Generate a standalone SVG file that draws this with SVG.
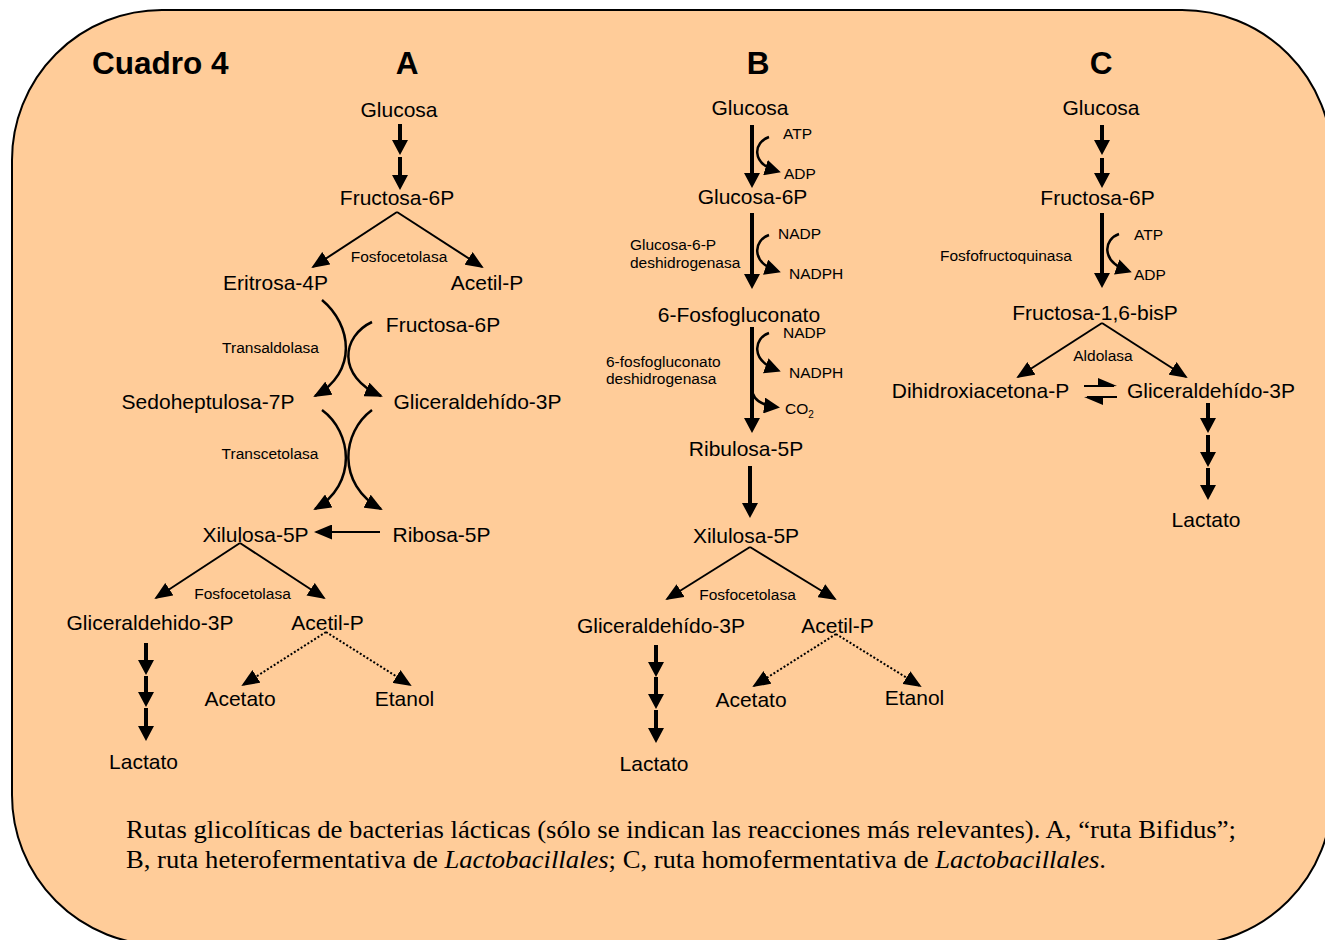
<svg xmlns="http://www.w3.org/2000/svg" width="1325" height="940" viewBox="0 0 1325 940">
<style>
.t{font-family:"Liberation Sans",Arial,sans-serif;font-size:21px;fill:#000;text-anchor:middle}
.s{font-family:"Liberation Sans",Arial,sans-serif;font-size:15.5px;fill:#000}
.sm{text-anchor:middle}
.h{font-family:"Liberation Sans",Arial,sans-serif;font-size:31.5px;font-weight:bold;fill:#000}
.cap{font-family:"Liberation Serif","Times New Roman",serif;font-size:25.5px;fill:#000}
.thin{stroke:#000;stroke-width:2;fill:none;marker-end:url(#mThin)}
.arc{stroke:#000;stroke-width:2.5;fill:none;marker-end:url(#mThin)}
.dot{stroke:#000;stroke-width:2;fill:none;stroke-dasharray:2 2;marker-end:url(#mThin)}
.thick{stroke:#000;stroke-width:4;fill:none;marker-end:url(#mThick)}
.curve{stroke:#000;stroke-width:2.5;fill:none;marker-end:url(#mCurve)}
.plain{stroke:#000;stroke-width:2;fill:none}
</style>
<defs>
<marker id="mThin" markerUnits="userSpaceOnUse" markerWidth="18" markerHeight="15" refX="16" refY="7.5" orient="auto"><path d="M0,0 L18,7.5 L0,15 z" fill="#000"/></marker>
<marker id="mThick" markerUnits="userSpaceOnUse" markerWidth="15" markerHeight="16" refX="9" refY="8" orient="auto"><path d="M0,0 L15,8 L0,16 z" fill="#000"/></marker>
<marker id="mCurve" markerUnits="userSpaceOnUse" markerWidth="16" markerHeight="16" refX="12" refY="8" orient="auto"><path d="M0,0 L16,8 L0,16 z" fill="#000"/></marker>
</defs>
<rect id="frame" x="12" y="10" width="1320" height="935" rx="150" ry="150" fill="#FFCC99" stroke="#000" stroke-width="2"/>
<g id="titles">
<text class="h" x="92" y="74">Cuadro 4</text>
<text class="h" x="407" y="74" text-anchor="middle">A</text>
<text class="h" x="758" y="74" text-anchor="middle">B</text>
<text class="h" x="1101" y="74" text-anchor="middle">C</text>
</g>
<g id="connectors">
<!-- Column A -->
<line class="thick" x1="400" y1="124" x2="400" y2="149"/>
<line class="thick" x1="400" y1="157" x2="400" y2="184"/>
<line class="thin" x1="397" y1="212" x2="313" y2="267"/>
<line class="thin" x1="397" y1="212" x2="482" y2="267"/>
<path class="arc" d="M322,300 C352,325 358,372 315,396"/>
<path class="arc" d="M372,322 C342,336 336,376 381,396"/>
<path class="arc" d="M322,410 C352,432 358,484 315,509"/>
<path class="arc" d="M372,410 C342,432 336,484 381,509"/>
<line class="thin" x1="380" y1="532" x2="316" y2="532"/>
<line class="thin" x1="240" y1="543" x2="156" y2="598"/>
<line class="thin" x1="240" y1="543" x2="324" y2="598"/>
<line class="thick" x1="146" y1="643" x2="146" y2="669"/>
<line class="thick" x1="146" y1="676" x2="146" y2="701"/>
<line class="thick" x1="146" y1="708" x2="146" y2="735"/>
<line class="dot" x1="326" y1="632" x2="243" y2="685"/>
<line class="dot" x1="326" y1="632" x2="410" y2="685"/>
<!-- Column B -->
<line class="thick" x1="752" y1="125" x2="752" y2="182"/>
<path class="curve" d="M769,137 C754,142 750,163 777,171"/>
<line class="thick" x1="752" y1="213" x2="752" y2="283"/>
<path class="curve" d="M769,235 C754,240 750,262 777,271"/>
<line class="thick" x1="752" y1="327" x2="752" y2="427"/>
<path class="curve" d="M769,333 C754,338 750,360 777,370"/>
<path class="curve" d="M752,388 C752,399 760,405 776,407"/>
<line class="thick" x1="750" y1="466" x2="750" y2="512"/>
<line class="thin" x1="750" y1="547" x2="667" y2="599"/>
<line class="thin" x1="750" y1="547" x2="835" y2="599"/>
<line class="thick" x1="656" y1="645" x2="656" y2="671"/>
<line class="thick" x1="656" y1="677" x2="656" y2="703"/>
<line class="thick" x1="656" y1="710" x2="656" y2="737"/>
<line class="dot" x1="836" y1="634" x2="754" y2="686"/>
<line class="dot" x1="836" y1="634" x2="920" y2="686"/>
<!-- Column C -->
<line class="thick" x1="1102" y1="125" x2="1102" y2="149"/>
<line class="thick" x1="1102" y1="158" x2="1102" y2="182"/>
<line class="thick" x1="1102" y1="213" x2="1102" y2="282"/>
<path class="curve" d="M1119,234 C1104,239 1100,261 1128,271"/>
<line class="thin" x1="1102" y1="323" x2="1018" y2="377"/>
<line class="thin" x1="1102" y1="323" x2="1186" y2="377"/>
<line class="plain" x1="1084" y1="386" x2="1114" y2="386"/>
<polygon points="1098,378 1117,386 1098,387" fill="#000"/>
<line class="plain" x1="1087" y1="397" x2="1117" y2="397"/>
<polygon points="1103,396 1084,397 1103,405" fill="#000"/>
<line class="thick" x1="1208" y1="403" x2="1208" y2="427"/>
<line class="thick" x1="1208" y1="435" x2="1208" y2="461"/>
<line class="thick" x1="1208" y1="468" x2="1208" y2="494"/>
</g>
<g id="nodeA">
<g id="a-glucosa"><text class="t" x="399" y="117">Glucosa</text></g>
<g id="a-fructosa6p"><text class="t" x="397" y="205">Fructosa-6P</text></g>
<g id="a-fosfocetolasa1"><text class="s sm" x="399" y="262">Fosfocetolasa</text></g>
<g id="a-eritrosa"><text class="t" x="275.5" y="290">Eritrosa-4P</text></g>
<g id="a-acetilp1"><text class="t" x="487" y="290">Acetil-P</text></g>
<g id="a-fructosa6p2"><text class="t" x="443" y="332">Fructosa-6P</text></g>
<g id="a-transaldolasa"><text class="s sm" x="270.5" y="353">Transaldolasa</text></g>
<g id="a-sedoheptulosa"><text class="t" x="208" y="409">Sedoheptulosa-7P</text></g>
<g id="a-gliceraldehido"><text class="t" x="477.5" y="409">Gliceraldehído-3P</text></g>
<g id="a-transcetolasa"><text class="s sm" x="270" y="459">Transcetolasa</text></g>
<g id="a-xilulosa"><text class="t" x="255.5" y="542">Xilulosa-5P</text></g>
<g id="a-ribosa"><text class="t" x="441.5" y="542">Ribosa-5P</text></g>
<g id="a-fosfocetolasa2"><text class="s sm" x="242.5" y="599">Fosfocetolasa</text></g>
<g id="a-gliceraldehido2"><text class="t" x="150" y="630">Gliceraldehido-3P</text></g>
<g id="a-acetilp2"><text class="t" x="327.5" y="630">Acetil-P</text></g>
<g id="a-acetato"><text class="t" x="240" y="706">Acetato</text></g>
<g id="a-etanol"><text class="t" x="404.5" y="706">Etanol</text></g>
<g id="a-lactato"><text class="t" x="143.5" y="769">Lactato</text></g>
</g>
<g id="nodeB">
<g id="b-glucosa"><text class="t" x="750" y="115">Glucosa</text></g>
<g id="b-atp"><text class="s" x="783" y="139">ATP</text></g>
<g id="b-adp"><text class="s" x="784" y="179">ADP</text></g>
<g id="b-glucosa6p"><text class="t" x="752.5" y="204">Glucosa-6P</text></g>
<g id="b-nadp1"><text class="s" x="778" y="239">NADP</text></g>
<g id="b-enz1"><text class="s" x="630" y="250">Glucosa-6-P</text><text class="s" x="630" y="268">deshidrogenasa</text></g>
<g id="b-nadph1"><text class="s" x="789" y="279">NADPH</text></g>
<g id="b-6pg"><text class="t" x="739" y="322">6-Fosfogluconato</text></g>
<g id="b-nadp2"><text class="s" x="783" y="338">NADP</text></g>
<g id="b-enz2"><text class="s" x="606" y="367">6-fosfogluconato</text><text class="s" x="606" y="384">deshidrogenasa</text></g>
<g id="b-nadph2"><text class="s" x="789" y="378">NADPH</text></g>
<g id="b-co2"><text class="s" x="785" y="414">CO<tspan font-size="10" dy="4">2</tspan></text></g>
<g id="b-ribulosa"><text class="t" x="746" y="456">Ribulosa-5P</text></g>
<g id="b-xilulosa"><text class="t" x="746" y="543">Xilulosa-5P</text></g>
<g id="b-fosfocetolasa"><text class="s sm" x="747.5" y="600">Fosfocetolasa</text></g>
<g id="b-gliceraldehido"><text class="t" x="661" y="633">Gliceraldehído-3P</text></g>
<g id="b-acetilp"><text class="t" x="837.5" y="633">Acetil-P</text></g>
<g id="b-acetato"><text class="t" x="751" y="707">Acetato</text></g>
<g id="b-etanol"><text class="t" x="914.5" y="705">Etanol</text></g>
<g id="b-lactato"><text class="t" x="654" y="771">Lactato</text></g>
</g>
<g id="nodeC">
<g id="c-glucosa"><text class="t" x="1101" y="115">Glucosa</text></g>
<g id="c-fructosa6p"><text class="t" x="1097.5" y="205">Fructosa-6P</text></g>
<g id="c-atp"><text class="s" x="1134" y="240">ATP</text></g>
<g id="c-pfk"><text class="s" x="940" y="261">Fosfofructoquinasa</text></g>
<g id="c-adp"><text class="s" x="1134" y="280">ADP</text></g>
<g id="c-fbp"><text class="t" x="1095" y="320">Fructosa-1,6-bisP</text></g>
<g id="c-aldolasa"><text class="s sm" x="1103" y="361">Aldolasa</text></g>
<g id="c-dhap"><text class="t" x="980.5" y="398">Dihidroxiacetona-P</text></g>
<g id="c-gliceraldehido"><text class="t" x="1211" y="398">Gliceraldehído-3P</text></g>
<g id="c-lactato"><text class="t" x="1206" y="527">Lactato</text></g>
</g>
<g id="caption">
<text class="cap" x="126" y="838" textLength="1110" lengthAdjust="spacingAndGlyphs">Rutas glicolíticas de bacterias lácticas (sólo se indican las reacciones más relevantes). A, “ruta Bifidus”;</text>
<text class="cap" x="126" y="868" textLength="980" lengthAdjust="spacingAndGlyphs">B, ruta heterofermentativa de <tspan font-style="italic">Lactobacillales</tspan>; C, ruta homofermentativa de <tspan font-style="italic">Lactobacillales</tspan>.</text>
</g>
</svg>
